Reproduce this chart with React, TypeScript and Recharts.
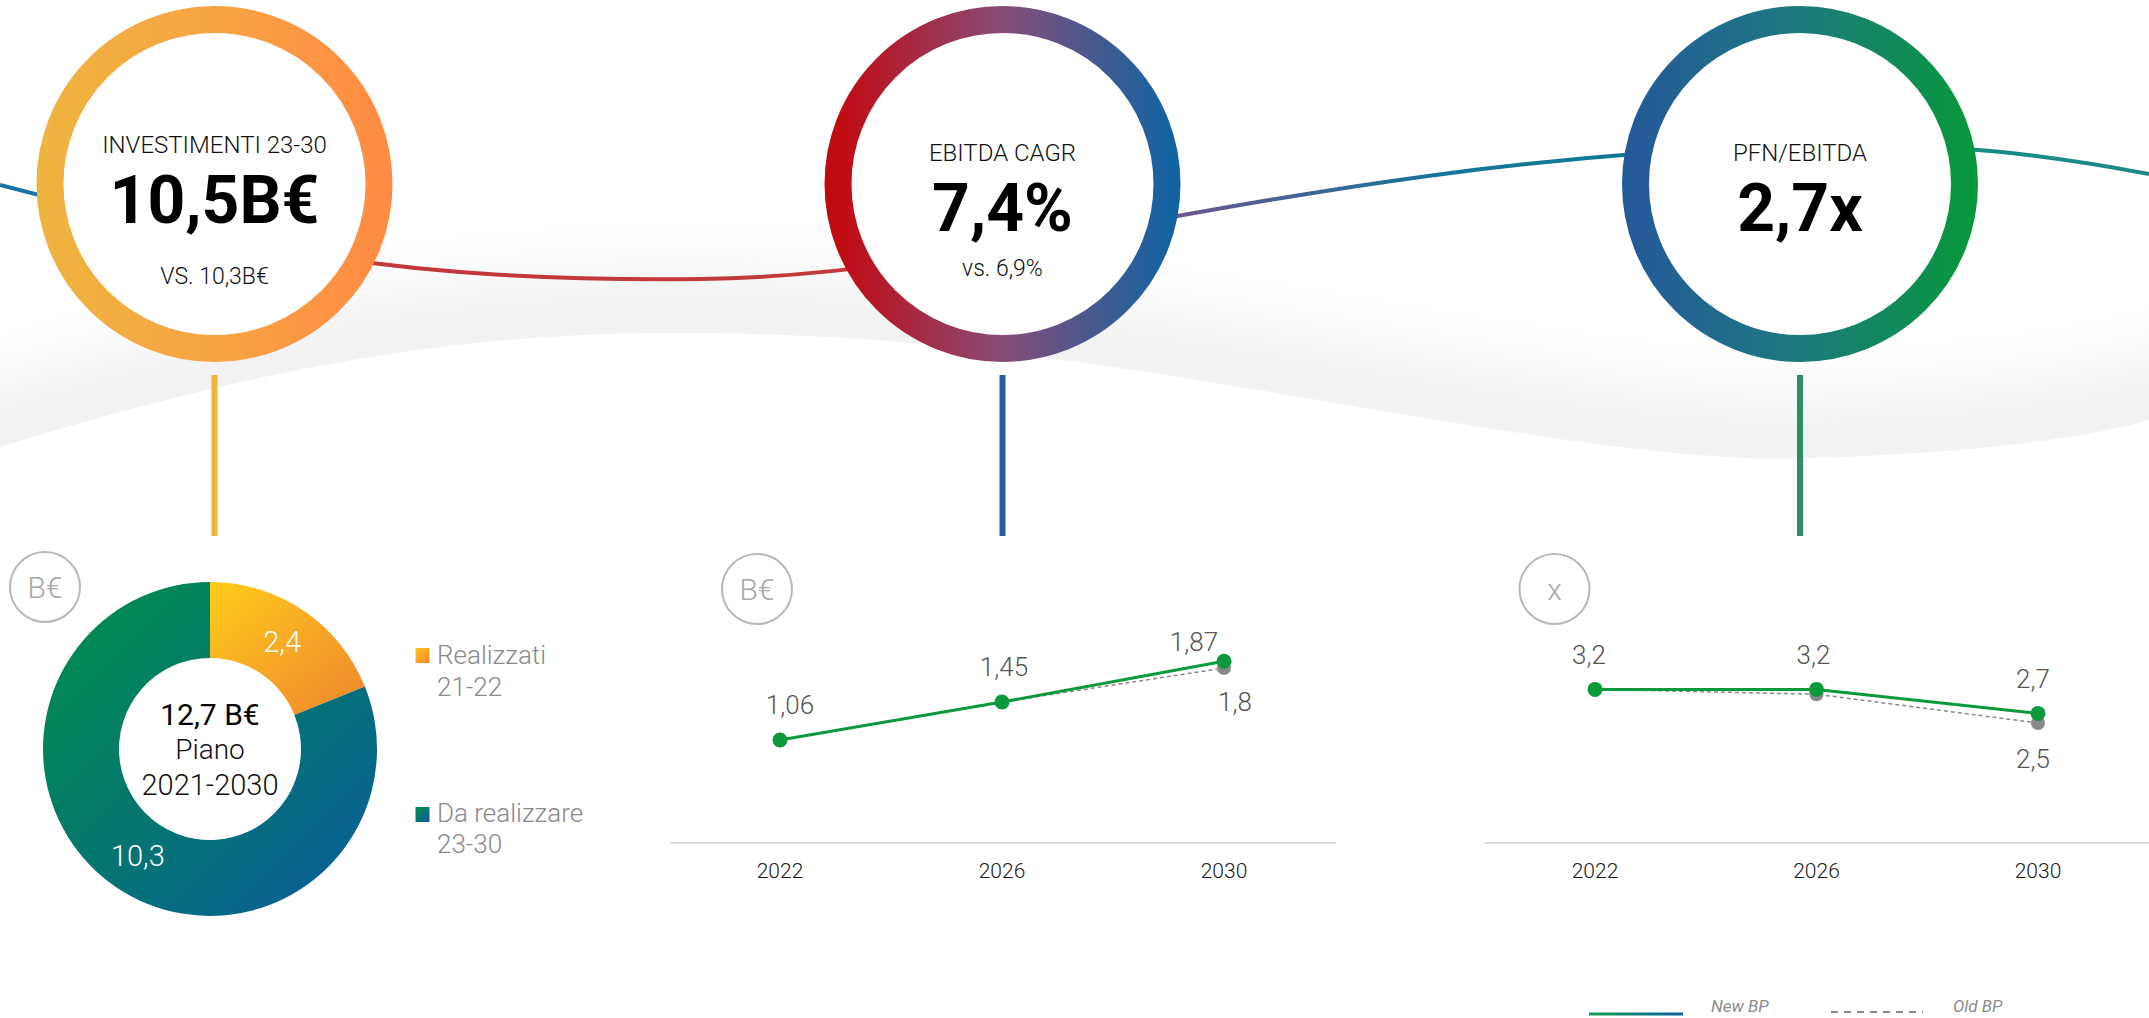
import { PieChart, Pie, Cell, LineChart, Line, XAxis, YAxis, LabelList } from 'recharts';

const years = ['2022', '2026', '2030'];
const ebitdaNew = [1.06, 1.45, 1.87];
const ebitdaOld = [1.06, 1.45, 1.8];
const leverageNew = [3.2, 3.2, 2.7];
const leverageOld = [3.2, 3.1, 2.5];
const investNames = ['Realizzati 21-22', 'Da realizzare 23-30'];
const investValues = [2.4, 10.3];

const ebitdaData = years.map((year, i) => ({ year, nuovo: ebitdaNew[i], vecchio: ebitdaOld[i] }));
const leverageData = years.map((year, i) => ({ year, nuovo: leverageNew[i], vecchio: leverageOld[i] }));
const investData = investNames.map((name, i) => ({ name, value: investValues[i] }));

const GREEN = '#0a9a3c';
const OLD = '#8a8a8a';
const fmt = (v: number) => String(v).replace('.', ',');

// colored wave line and gray shadow edge
const LINE_PATH = 'M0,185 C250,250 400,282 700,279 C1000,276 1300,160 1800,145 C1950,142 2050,155 2149,174';
const EDGE_PATH =
  'M-100,478 L0,447 C250,370 450,333 672,333 C900,333 1050,355 1300,397 C1550,440 1700,462 1801,458 C1950,455 2080,440 2149,420 L2260,390';

function makeLabel(dx: number[], dy: number[], onlyLast = false) {
  return (props: any) => {
    const { x, y, value, index } = props;
    if (onlyLast && index !== years.length - 1) return null;
    return (
      <text x={x + dx[index]} y={y + dy[index]} textAnchor="middle" fontSize={26} fontWeight={300} fill="#555">
        {fmt(value)}
      </text>
    );
  };
}

const yearTick = (props: any) => {
  const { x, y, payload } = props;
  return (
    <text x={x} y={y} dy="0.71em" textAnchor="middle" fontSize={21} fontWeight={300} fill="#1a1a1a">
      {payload.value}
    </text>
  );
};

const pieLabel = (props: any) => {
  const { cx, cy, midAngle, innerRadius, outerRadius, value } = props;
  const r = (innerRadius + outerRadius) / 2;
  const a = (-midAngle * Math.PI) / 180;
  return (
    <text x={cx + r * Math.cos(a)} y={cy + r * Math.sin(a) + 10} textAnchor="middle" fontSize={29} fontWeight={300} fill="#fff">
      {fmt(value)}
    </text>
  );
};

function KpiCircle({ cx, grad, title, titleY, big, bigY, sub, subY }: any) {
  return (
    <g>
      <circle cx={cx} cy={184} r={164.5} fill="#fff" stroke={`url(#${grad})`} strokeWidth={27} />
      <text x={cx} y={titleY} textAnchor="middle" fontSize={24} fontWeight={300} fill="#111">{title}</text>
      <text x={cx} y={bigY} textAnchor="middle" fontSize={66} fontWeight={700} fill="#000">{big}</text>
      {sub && <text x={cx} y={subY} textAnchor="middle" fontSize={23} fontWeight={300} fill="#111">{sub}</text>}
    </g>
  );
}

function Badge({ cx, cy, text }: any) {
  return (
    <g>
      <circle cx={cx} cy={cy} r={35} fill="none" stroke="#b8b8b8" strokeWidth={2} />
      <text x={cx} y={cy + 11} textAnchor="middle" fontSize={30} fontWeight={300} fill="#a8a8a8">{text}</text>
    </g>
  );
}

export default function App() {
  return (
    <div style={{ position: 'absolute', left: 0, top: 0, width: 2149, height: 1018, overflow: 'hidden', background: '#fff', fontFamily: 'Roboto, sans-serif' }}>
      <svg width={2149} height={1018} style={{ position: 'absolute', left: 0, top: 0 }}>
        <defs>
          <clipPath id="aboveEdge">
            <path d={EDGE_PATH + ' L2260,0 L-100,0 Z'} />
          </clipPath>
          <filter id="soft" x="-10%" y="-100%" width="120%" height="300%">
            <feGaussianBlur stdDeviation="34" />
          </filter>
          <linearGradient id="wave" gradientUnits="userSpaceOnUse" x1={0} y1={0} x2={2149} y2={0}>
            <stop offset="0" stopColor="#1772a5" />
            <stop offset="0.03" stopColor="#1a6fa3" />
            <stop offset="0.17" stopColor="#c3373a" />
            <stop offset="0.39" stopColor="#c43a3c" />
            <stop offset="0.55" stopColor="#6a5590" />
            <stop offset="0.67" stopColor="#137699" />
            <stop offset="0.76" stopColor="#0f7a92" />
            <stop offset="0.92" stopColor="#168a86" />
            <stop offset="1" stopColor="#1e8a86" />
          </linearGradient>
          <linearGradient id="ring1" x1="0" y1="0" x2="1" y2="0">
            <stop offset="0" stopColor="#efb33f" />
            <stop offset="0.5" stopColor="#f6a443" />
            <stop offset="1" stopColor="#ff8c44" />
          </linearGradient>
          <linearGradient id="ring2" x1="0" y1="0" x2="1" y2="0">
            <stop offset="0" stopColor="#c20a12" />
            <stop offset="0.5" stopColor="#874c78" />
            <stop offset="1" stopColor="#1463a0" />
          </linearGradient>
          <linearGradient id="ring3" x1="0" y1="0" x2="1" y2="0">
            <stop offset="0" stopColor="#245a98" />
            <stop offset="0.5" stopColor="#1d7a7e" />
            <stop offset="1" stopColor="#08963e" />
          </linearGradient>
          <linearGradient id="sqOrange" x1="0" y1="0" x2="1" y2="1">
            <stop offset="0" stopColor="#ffcb1c" />
            <stop offset="1" stopColor="#ee8530" />
          </linearGradient>
          <linearGradient id="sqGreen" x1="0" y1="0" x2="1" y2="1">
            <stop offset="0" stopColor="#009048" />
            <stop offset="1" stopColor="#0a5a9e" />
          </linearGradient>
          <linearGradient id="newLeg" gradientUnits="userSpaceOnUse" x1={1589} y1={0} x2={1683} y2={0}>
            <stop offset="0" stopColor="#13a050" />
            <stop offset="1" stopColor="#0d5ea0" />
          </linearGradient>
        </defs>

        <g clipPath="url(#aboveEdge)">
          <path d={EDGE_PATH} transform="translate(0,-14)" fill="none" stroke="#eeeeee" strokeWidth={80} filter="url(#soft)" />
        </g>
        <path d={LINE_PATH} fill="none" stroke="url(#wave)" strokeWidth={4} />

        <line x1={214.5} y1={375} x2={214.5} y2={536} stroke="#f0b43c" strokeWidth={6} />
        <line x1={1002.5} y1={375} x2={1002.5} y2={536} stroke="#2a5aa0" strokeWidth={6} />
        <line x1={1800} y1={375} x2={1800} y2={536} stroke="#2e8f5e" strokeWidth={6} />

        <KpiCircle cx={214.5} grad="ring1" title="INVESTIMENTI 23-30" titleY={153} big="10,5B€" bigY={223} sub="VS. 10,3B€" subY={284} />
        <KpiCircle cx={1002.5} grad="ring2" title="EBITDA CAGR" titleY={161} big="7,4%" bigY={231} sub="vs. 6,9%" subY={276} />
        <KpiCircle cx={1800} grad="ring3" title="PFN/EBITDA" titleY={161} big="2,7x" bigY={231} />

        <Badge cx={45} cy={587} text="B€" />
        <Badge cx={757} cy={589} text="B€" />
        <Badge cx={1554.5} cy={589} text="x" />

        <g fontSize={26} fontWeight={300} fill="#8a8a8a">
          <rect x={415.5} y={648} width={14} height={15} fill="url(#sqOrange)" />
          <text x={437} y={664}>Realizzati</text>
          <text x={437} y={696}>21-22</text>
          <rect x={415.5} y={807} width={14} height={15} fill="url(#sqGreen)" />
          <text x={437} y={822}>Da realizzare</text>
          <text x={437} y={853}>23-30</text>
        </g>

        <g fontSize={17} fontStyle="italic" fill="#8c8c8c">
          <line x1={1589} y1={1014} x2={1683} y2={1014} stroke="url(#newLeg)" strokeWidth={3} />
          <text x={1711} y={1012}>New BP</text>
          <line x1={1831} y1={1012} x2={1923} y2={1012} stroke="#8a8a8a" strokeWidth={2} strokeDasharray="7 6" />
          <text x={1953} y={1012}>Old BP</text>
        </g>
      </svg>

      <div style={{ position: 'absolute', left: 0, top: 579 }}>
        <PieChart width={420} height={340} margin={{ top: 0, right: 0, bottom: 0, left: 0 }}>
          <defs>
            <linearGradient id="pieOrange" x1="0" y1="0" x2="1" y2="1">
              <stop offset="0" stopColor="#ffcc1a" />
              <stop offset="1" stopColor="#ee8530" />
            </linearGradient>
            <linearGradient id="pieGreen" x1="0" y1="0" x2="1" y2="1">
              <stop offset="0" stopColor="#009048" />
              <stop offset="0.5" stopColor="#05766f" />
              <stop offset="1" stopColor="#0a5a9e" />
            </linearGradient>
          </defs>
          <Pie
            data={investData}
            dataKey="value"
            cx={210}
            cy={170}
            innerRadius={91}
            outerRadius={167}
            startAngle={90}
            endAngle={-270}
            stroke="none"
            label={pieLabel}
            labelLine={false}
            isAnimationActive={false}
          >
            <Cell fill="url(#pieOrange)" />
            <Cell fill="url(#pieGreen)" />
          </Pie>
        </PieChart>
        <svg width={420} height={340} style={{ position: 'absolute', left: 0, top: 0, pointerEvents: 'none' }}>
          <text x={210} y={146} textAnchor="middle" fontSize={30} fill="#000">12,7 B€</text>
          <text x={210} y={180} textAnchor="middle" fontSize={28} fontWeight={300} fill="#111">Piano</text>
          <text x={210} y={216} textAnchor="middle" fontSize={29} fontWeight={300} fill="#111">2021-2030</text>
        </svg>
      </div>

      <div style={{ position: 'absolute', left: 670, top: 580 }}>
        <LineChart width={666} height={313} data={ebitdaData} margin={{ top: 20, right: 0, bottom: 0, left: 0 }}>
          <XAxis dataKey="year" height={50} padding={{ left: 110, right: 112 }} axisLine={{ stroke: '#dcdcdc', strokeWidth: 2 }} tickLine={false} tickMargin={14} tick={yearTick} />
          <YAxis hide domain={[0, 2.5]} />
          <Line dataKey="vecchio" stroke={OLD} strokeWidth={1.5} strokeDasharray="4 3" dot={{ r: 7, fill: OLD, stroke: 'none' }} activeDot={false} isAnimationActive={false}>
            <LabelList dataKey="vecchio" content={makeLabel([0, 0, 11], [0, 0, 43], true)} />
          </Line>
          <Line dataKey="nuovo" stroke={GREEN} strokeWidth={3} dot={{ r: 7.5, fill: GREEN, stroke: 'none' }} activeDot={false} isAnimationActive={false}>
            <LabelList dataKey="nuovo" content={makeLabel([10, 2, -30], [-26, -26, -10])} />
          </Line>
        </LineChart>
      </div>

      <div style={{ position: 'absolute', left: 1484, top: 583 }}>
        <LineChart width={665} height={310} data={leverageData} margin={{ top: 20, right: 0, bottom: 0, left: 0 }}>
          <XAxis dataKey="year" height={50} padding={{ left: 111, right: 111 }} axisLine={{ stroke: '#dcdcdc', strokeWidth: 2 }} tickLine={false} tickMargin={14} tick={yearTick} />
          <YAxis hide domain={[0, 5]} />
          <Line dataKey="vecchio" stroke={OLD} strokeWidth={1.5} strokeDasharray="4 3" dot={{ r: 7, fill: OLD, stroke: 'none' }} activeDot={false} isAnimationActive={false}>
            <LabelList dataKey="vecchio" content={makeLabel([0, 0, -5], [0, 0, 45], true)} />
          </Line>
          <Line dataKey="nuovo" stroke={GREEN} strokeWidth={3} dot={{ r: 7.5, fill: GREEN, stroke: 'none' }} activeDot={false} isAnimationActive={false}>
            <LabelList dataKey="nuovo" content={makeLabel([-6, -3, -5], [-25, -25, -25])} />
          </Line>
        </LineChart>
      </div>
    </div>
  );
}
